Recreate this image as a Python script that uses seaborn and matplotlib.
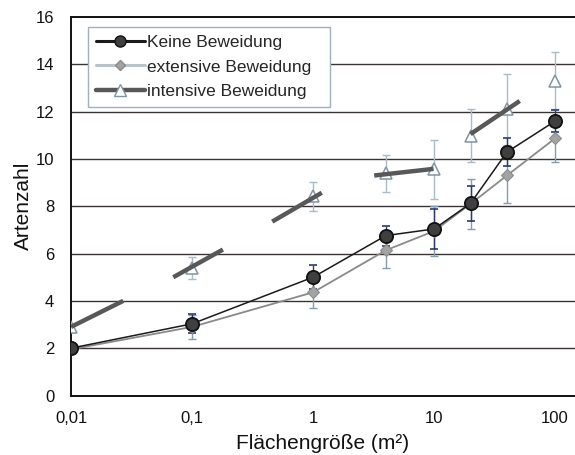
import numpy as np
import pandas as pd
import matplotlib
matplotlib.use("Agg")
import matplotlib.pyplot as plt
from matplotlib.lines import Line2D
import seaborn as sns

# ---- data ----
area = [0.01, 0.1, 1, 4, 10, 20, 40, 100]
series_names = ["Keine Beweidung", "extensive Beweidung", "intensive Beweidung"]

keine = [2.0, 3.03, 5.0, 6.76, 7.04, 8.12, 10.29, 11.6]
keine_err = [0.0, 0.4, 0.5, 0.42, 0.85, 0.75, 0.6, 0.45]

extensiv = [1.95, 2.9, 4.36, 6.14, 6.95, 8.1, 9.3, 10.87]
extensiv_err = [0.0, 0.5, 0.65, 0.75, 1.05, 1.05, 1.16, 1.0]

intensiv = [2.9, 5.4, 8.42, 9.4, 9.56, 10.98, 12.1, 13.3]
intensiv_err = [0.0, 0.47, 0.6, 0.78, 1.25, 1.12, 1.5, 1.2]

# thick broken segments of the intensive series (as drawn in the original)
seg_x0 = [0.01, 0.07, 0.46, 3.2, 20.0]
seg_y0 = [2.9, 5.0, 7.35, 9.3, 11.05]
seg_x1 = [0.027, 0.18, 1.18, 9.9, 51.0]
seg_y1 = [4.0, 6.17, 8.57, 9.58, 12.45]

y_ticks = [0, 2, 4, 6, 8, 10, 12, 14, 16]
x_ticks = [0.01, 0.1, 1, 10, 100]
x_ticklabels = ["0,01", "0,1", "1", "10", "100"]

# ---- style ----
sns.set_style("white")
plt.rcParams["font.family"] = ["Liberation Sans", "DejaVu Sans"]

fig = plt.figure(figsize=(5.75, 4.55), dpi=100)
ax = fig.add_axes([71 / 575, 1 - 395.5 / 455, (575 - 71) / 575, (395.5 - 17) / 455])

# grid lines
for yv in y_ticks[1:-1]:
    ax.axhline(yv, color="#3a3333", lw=1.0, zorder=0)

c_keine = "#3f3f3f"
c_ext = "#a3a3a3"
c_int_line = "#585858"

df = pd.DataFrame({"area": area, "keine": keine, "ext": extensiv, "int": intensiv})

# error bars
ax.errorbar(area[1:], keine[1:], yerr=keine_err[1:], fmt="none", ecolor="#2b3b70",
            elinewidth=1.0, capsize=3, capthick=1.2, zorder=3)
ax.errorbar(area[1:], extensiv[1:], yerr=extensiv_err[1:], fmt="none", ecolor="#7f9db3",
            elinewidth=1.0, capsize=3, capthick=1.0, zorder=2)
ax.errorbar(area[1:], intensiv[1:], yerr=intensiv_err[1:], fmt="none", ecolor="#a7bccb",
            elinewidth=1.0, capsize=3, capthick=1.0, zorder=2)

# lines with markers
sns.lineplot(data=df, x="area", y="ext", ax=ax, color="#8a8a8a", lw=1.3,
             marker="D", markersize=6.5, markerfacecolor=c_ext, markeredgecolor="#8a8a8a",
             zorder=4)
sns.lineplot(data=df, x="area", y="keine", ax=ax, color="#1a1a1a", lw=1.1,
             marker="o", markersize=9.5, markerfacecolor=c_keine, markeredgecolor="#111111",
             markeredgewidth=1.3, zorder=5)
sns.lineplot(data=df, x="area", y="int", ax=ax, color="none", lw=0,
             marker="^", markersize=8.5, markerfacecolor="white", markeredgecolor="#7f95a6",
             markeredgewidth=1.1, zorder=4)

for x0, y0, x1, y1 in zip(seg_x0, seg_y0, seg_x1, seg_y1):
    ax.plot([x0, x1], [y0, y1], color=c_int_line, lw=3.2, solid_capstyle="butt", zorder=6)

ax.set_xscale("log")
ax.set_xlim(0.01, 146)
ax.set_ylim(0, 16)
ax.set_xticks(x_ticks)
ax.set_xticklabels(x_ticklabels)
ax.xaxis.set_minor_locator(matplotlib.ticker.NullLocator())
ax.set_yticks(y_ticks)
ax.set_yticklabels([str(v) for v in y_ticks])
ax.tick_params(axis="both", labelsize=12, length=4, width=1, color="#222222",
               direction="out", labelcolor="#111111")
ax.tick_params(axis="y", pad=8)
ax.tick_params(axis="x", pad=7)

for s in ["left", "bottom", "top"]:
    ax.spines[s].set_color("#111111")
    ax.spines[s].set_linewidth(1.4)
ax.spines["right"].set_visible(False)

ax.set_xlabel("Flächengröße (m²)", fontsize=15, color="#111111", labelpad=6)
ax.set_ylabel("Artenzahl", fontsize=15, color="#111111", labelpad=2)

handles = [
    Line2D([], [], color="#1a1a1a", lw=2.2, marker="o", markersize=8,
           markerfacecolor=c_keine, markeredgecolor="#111111"),
    Line2D([], [], color="#b8c4cc", lw=2.2, marker="D", markersize=5,
           markerfacecolor=c_ext, markeredgecolor="#8a8a8a"),
    Line2D([], [], color=c_int_line, lw=3.2, marker="^", markersize=8,
           markerfacecolor="white", markeredgecolor="#7f95a6"),
]
leg_w = (330 - 88) / 504
leg_h = (120 - 27) / 378.5
leg = ax.legend(handles, series_names, loc="upper left",
                bbox_to_anchor=(0.034, 0.974 - leg_h, leg_w, leg_h), mode="expand",
                borderaxespad=0, fontsize=12.5, handlelength=2.8, handletextpad=0.15,
                labelspacing=0.55, borderpad=0.45, fancybox=False, framealpha=1)
leg.get_frame().set_edgecolor("#9fb0bf")
leg.get_frame().set_linewidth(1.0)
leg.set_zorder(10)

fig.savefig("out.png", dpi=100)
